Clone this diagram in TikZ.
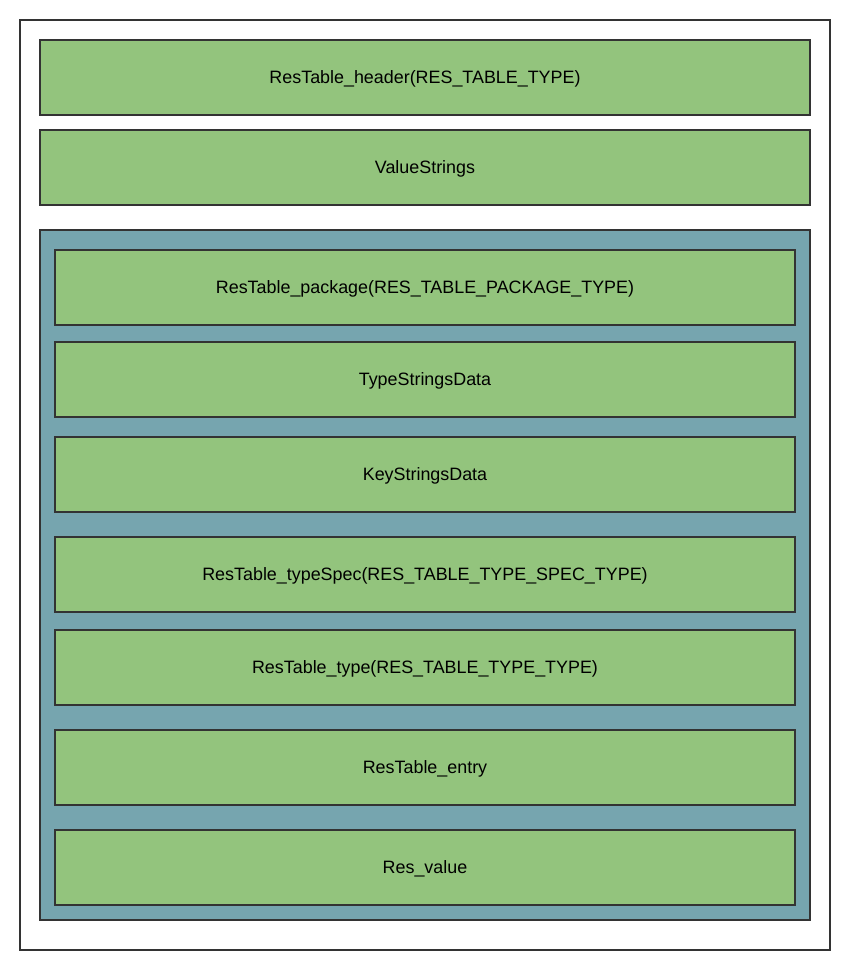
\documentclass[tikz,border=0pt]{standalone}
\usepackage{fontspec}
\setmainfont{Liberation Sans}
\definecolor{boxgreen}{HTML}{93C47D}
\definecolor{boxblue}{HTML}{76A5AF}
\definecolor{edge}{HTML}{333333}
\begin{document}
\begin{tikzpicture}[x=1pt,y=-1pt,
  gbox/.style={draw=edge,line width=2pt,fill=boxgreen},
  lbl/.style={font=\fontsize{17.9}{21}\selectfont,text=black}]
\useasboundingbox (0,0) rectangle (850,970);
\draw[draw=edge,line width=2pt,fill=white] (20,20) rectangle (830,950);
\draw[gbox] (40,40) rectangle (810,115);
\node[lbl] (hdr) at (425,78.5) {ResTable\_header(RES\_TABLE\_TYPE)};
\draw[gbox] (40,130) rectangle (810,205);
\node[lbl] (vs) at (425,168.5) {ValueStrings};
\draw[draw=edge,line width=2pt,fill=boxblue] (40,230) rectangle (810,920);
\foreach \t/\b/\txt/\nm in {
  250/325/{ResTable\_package(RES\_TABLE\_PACKAGE\_TYPE)}/pkg,
  342/417/{TypeStringsData}/tsd,
  437/512/{KeyStringsData}/ksd,
  537/612/{ResTable\_typeSpec(RES\_TABLE\_TYPE\_SPEC\_TYPE)}/tspec,
  630/705/{ResTable\_type(RES\_TABLE\_TYPE\_TYPE)}/ttype,
  730/805/{ResTable\_entry}/entry,
  830/905/{Res\_value}/rval}{
  \draw[gbox] (55,\t) rectangle (795,\b);
  \node[lbl] (\nm) at (425,{(\t+\b)/2+1}) {\txt};
}
\end{tikzpicture}
\end{document}
